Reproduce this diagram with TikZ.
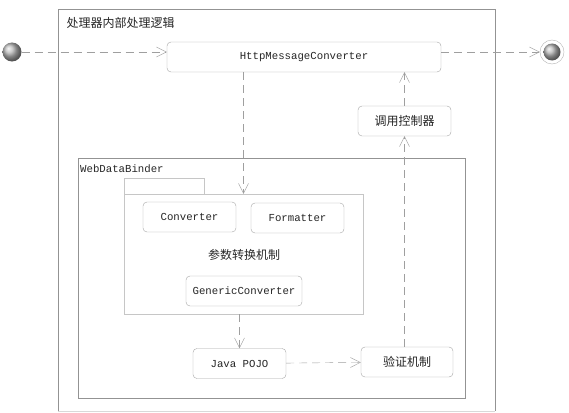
\documentclass[tikz,border=0pt]{standalone}
\usepackage{fontspec}
\setmonofont{Liberation Mono}
\newfontfamily\cjk{Noto Sans CJK SC}
\usetikzlibrary{arrows.meta}

\begin{document}
\begin{tikzpicture}[x=1pt, y=-1pt,
  box/.style={draw=gray!70, rounded corners=4pt, fill=white, inner sep=0pt,
    minimum height=30pt, text=black!85, font=\ttfamily\fontsize{10.7}{12}\selectfont},
  cbox/.style={box, font=\cjk\fontsize{12}{14}\selectfont},
  flow/.style={draw=gray!75, dash pattern=on 8pt off 5pt,
    -{Straight Barb[length=10pt,width=10pt]}},
  frame/.style={draw=gray!85}]

\useasboundingbox (0,0) rectangle (569,412);

% 外框：处理器内部处理逻辑
\draw[frame] (58,411) -- (58,9) -- (495,9) -- (495,411);
\draw[draw=gray!30] (58,411) -- (495,411);
\node[anchor=west, text=black!85, font=\cjk\fontsize{12}{14}\selectfont] (title) at (63,23) {处理器内部处理逻辑};

% 起点与终点
\node[circle, ball color=gray!55, minimum size=19pt, inner sep=0pt] (start) at (12,52) {};
\node[circle, draw=gray!60, minimum size=24pt, inner sep=0pt] (finish) at (552,52) {};
\node[circle, ball color=gray!55, minimum size=17pt, inner sep=0pt] (finishdot) at (finish) {};

% 消息转换
\node[box, minimum width=274pt] (hmc) at (304,57) {HttpMessageConverter};
\node[cbox, minimum width=93pt] (ctrl) at (404.5,121) {调用控制器};

% WebDataBinder
\draw[frame] (78,158) rectangle (465,398);
\node[anchor=west, inner sep=0pt, text=black!85, font=\ttfamily\fontsize{10.7}{12}\selectfont] (wdb) at (80,169) {WebDataBinder};

% 参数转换机制（包）
\draw[draw=gray!45] (124,194) -- (124,178) -- (204,178) -- (204,194);
\node[draw=gray!45, minimum width=239pt, minimum height=120pt, inner sep=0pt] (pkg) at (243.5,254) {};
\node[box, minimum width=93pt] (conv) at (189.5,217) {Converter};
\node[box, minimum width=93pt] (fmt) at (297.5,218) {Formatter};
\node[text=black!85, font=\cjk\fontsize{12}{14}\selectfont] (pkglabel) at (244,255) {参数转换机制};
\node[box, minimum width=116pt] (gen) at (244,291) {GenericConverter};

\node[box, minimum width=93pt] (pojo) at (239.5,363.5) {Java POJO};
\node[cbox, minimum width=92pt] (verify) at (407,362) {验证机制};

% 连线
\draw[flow] (start) -- (start -| hmc.west);
\draw[flow] (hmc.east |- finish) -- (finish);
\draw[flow] (hmc.south -| pkg.north) -- (pkg.north);
\draw[flow] (pkg.south -| pojo) -- (pojo);
\draw[flow] (pojo) -- (verify);
\draw[flow] (verify.north -| ctrl) -- (ctrl);
\draw[flow] (ctrl) -- (ctrl |- hmc.south);

\end{tikzpicture}
\end{document}
